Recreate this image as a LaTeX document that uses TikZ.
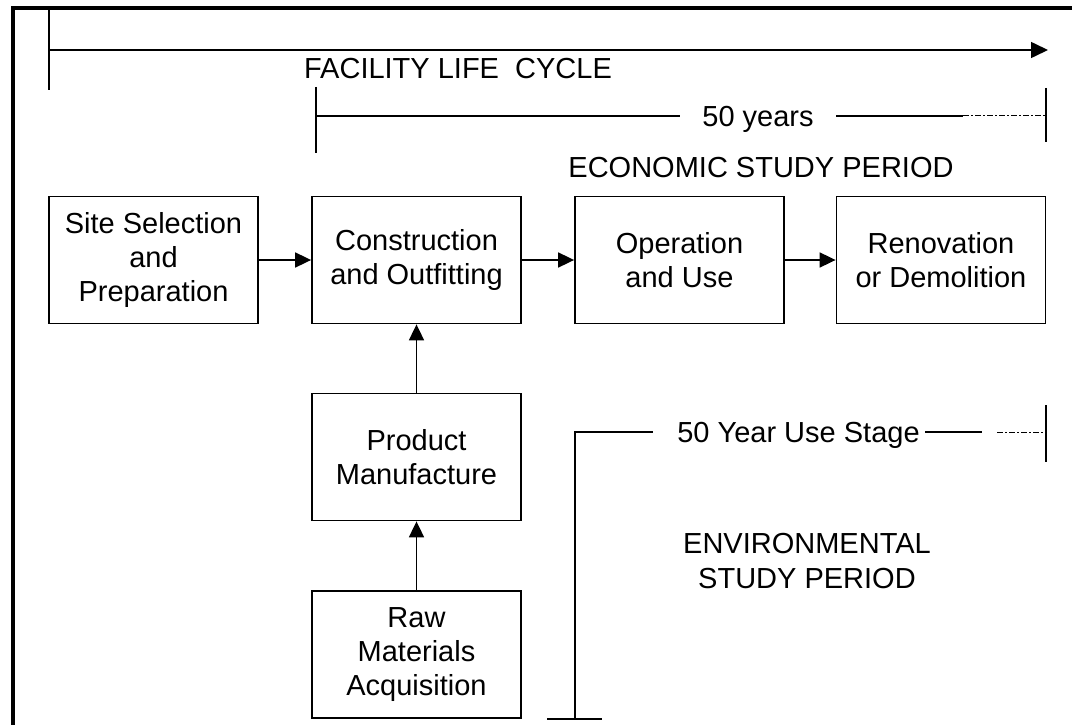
\documentclass[tikz,border=0pt]{standalone}
\usepackage{fontspec}
\setmainfont{Liberation Sans}
\usetikzlibrary{arrows.meta}

\tikzset{
  stage/.style={draw, line width=1.8pt, minimum width=209pt, minimum height=127pt,
    inner sep=0pt, align=center},
  flow/.style={line width=1.8pt, -{Triangle[length=16pt,width=15pt]}},
  span/.style={line width=1.6pt},
  faint/.style={line width=1pt, dash pattern=on 6pt off 2pt on 2pt off 2pt},
  lbl/.style={anchor=base, inner sep=0pt}
}

\begin{document}
\begin{tikzpicture}[x=1pt, y=-1pt, font=\fontsize{29}{34}\selectfont]
\useasboundingbox (0,0) rectangle (1072,725);

\draw[line width=3.5pt] (13,740) |- (1090,8);

% life cycle
\coordinate (lcTop) at (49,10);
\coordinate (lcBot) at (49,90);
\coordinate (lcStart) at (49,50);
\coordinate (lcEnd) at (1048,50);
\draw[span] (lcTop) -- (lcBot);
\draw[span, -{Triangle[length=17pt,width=16pt]}] (lcStart) -- (lcEnd);
\node (life) at (458,78) [lbl] {FACILITY LIFE\ \ CYCLE};

% economic period
\coordinate (ecoTop) at (316,87);
\coordinate (ecoBot) at (316,153);
\coordinate (ecoL) at (316,116);
\coordinate (ecoA) at (680,116);
\coordinate (ecoB) at (836,116);
\coordinate (ecoC) at (963,116);
\coordinate (ecoR) at (1046,116);
\coordinate (ecoRTop) at (1046,88);
\coordinate (ecoRBot) at (1046,142);
\draw[span] (ecoTop) -- (ecoBot);
\draw[span] (ecoL) -- (ecoA);
\draw[span] (ecoB) -- (ecoC);
\draw[faint] (ecoC) -- (ecoR);
\draw[span] (ecoRTop) -- (ecoRBot);
\node (years) at (758,126) [lbl] {50 years};
\node (eco) at (761,177) [lbl] {ECONOMIC STUDY PERIOD};

% boxes
\node (site) at (153.5,260) [stage] {Site Selection\\and\\Preparation};
\node (cons) at (416.5,260) [stage] {Construction\\and Outfitting};
\node (oper) at (679.5,260) [stage] {Operation\\and Use};
\node (renov) at (941,260) [stage] {Renovation\\or Demolition};
\node (prod) at (416.5,457) [stage] {Product\\Manufacture};
\node (raw) at (416.5,654.5) [stage] {Raw\\Materials\\Acquisition};

\draw[flow] (site) -- (cons);
\draw[flow] (cons) -- (oper);
\draw[flow] (oper) -- (renov);
\draw[flow] (prod) -- (cons);
\draw[flow] (raw) -- (prod);

% environmental period
\coordinate (envBot) at (575,719);
\coordinate (envBL) at (547,719);
\coordinate (envBR) at (602,719);
\coordinate (envCorner) at (575,432);
\coordinate (envA) at (653,432);
\coordinate (envB) at (925,432);
\coordinate (envC) at (982,432);
\coordinate (envD) at (997,432);
\coordinate (envR) at (1046,432);
\coordinate (envRTop) at (1046,405);
\coordinate (envRBot) at (1046,462);
\draw[span] (envBL) -- (envBR);
\draw[span] (envBot) -- (envCorner) -- (envA);
\draw[span] (envB) -- (envC);
\draw[faint] (envD) -- (envR);
\draw[span] (envRTop) -- (envRBot);
\node (usestage) at (798.5,442) [lbl] {50 Year Use Stage};
\node (env) at (807,561) [align=center, inner sep=0pt, font=\fontsize{29}{35}\selectfont] {ENVIRONMENTAL\\STUDY PERIOD};

\end{tikzpicture}
\end{document}
